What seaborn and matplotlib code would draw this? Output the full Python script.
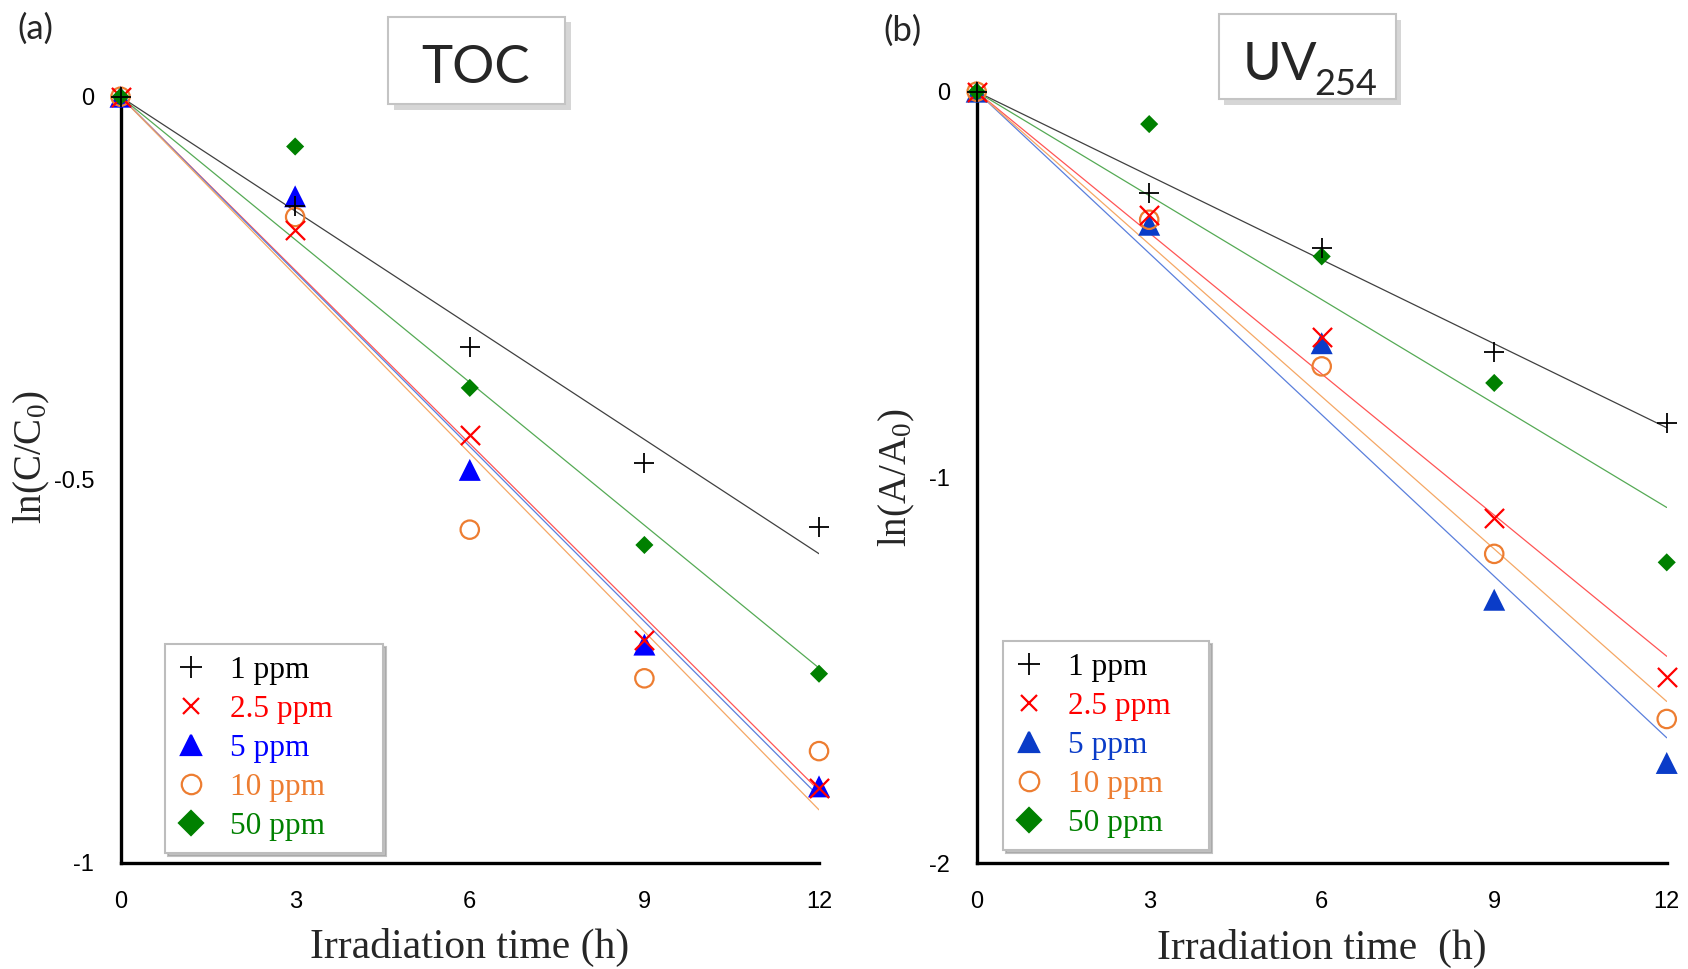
"""
TOC / UV254 광분해 1차 반응 플롯 (ln(C/C0) vs 조사 시간)
"""

import numpy as np
import matplotlib
matplotlib.use('Agg')
import matplotlib.pyplot as plt
import matplotlib.patheffects as pe
from matplotlib.patches import Rectangle
from matplotlib.lines import Line2D
import seaborn as sns

# 데이터
hours = [0, 3, 6, 9, 12]
series = ['1 ppm', '2.5 ppm', '5 ppm', '10 ppm', '50 ppm']

toc_1 = [0, -0.143, -0.326, -0.478, -0.561]
toc_25 = [0, -0.174, -0.441, -0.709, -0.902]
toc_5 = [0, -0.130, -0.487, -0.715, -0.900]
toc_10 = [0, -0.157, -0.565, -0.759, -0.854]
toc_50 = [0, -0.065, -0.380, -0.585, -0.753]

uv_1 = [0, -0.263, -0.406, -0.674, -0.859]
uv_25 = [0, -0.319, -0.635, -1.105, -1.518]
uv_5 = [0, -0.345, -0.652, -1.317, -1.740]
uv_10 = [0, -0.332, -0.712, -1.198, -1.626]
uv_50 = [0, -0.084, -0.427, -0.755, -1.220]

toc_ticks = [0, -0.1, -0.2, -0.3, -0.4, -0.5, -0.6, -0.7, -0.8, -0.9, -1]
toc_ticklabels = ['0', '', '', '', '', '-0.5', '', '', '', '', '-1']
uv_ticks = [0, -0.5, -1, -1.5, -2]
uv_ticklabels = ['0', '', '-1', '', '-2']

# 스타일
sns.set_style('white')
plt.rcParams['font.family'] = ['Liberation Sans', 'DejaVu Sans']
plt.rcParams['axes.unicode_minus'] = False
plt.rcParams['mathtext.fontset'] = 'custom'
plt.rcParams['mathtext.rm'] = 'Liberation Serif'
plt.rcParams['mathtext.it'] = 'Liberation Serif:italic'

marker_style = {
    '1 ppm': dict(marker='+', s=200, color='black', linewidth=1.3),
    '2.5 ppm': dict(marker='x', s=190, color='#ff0000', linewidth=1.6),
    '5 ppm': dict(marker='^', s=250, color='#0000ff', edgecolor='none'),
    '10 ppm': dict(marker='o', s=175, color='#ed7d31', facecolor='none',
                   edgecolor='#ed7d31', linewidth=1.6),
    '50 ppm': dict(marker='D', s=85, color='#008000', edgecolor='none'),
}
line_color = {'1 ppm': '#404040', '2.5 ppm': '#ff5555', '5 ppm': '#5a7fdc',
              '10 ppm': '#f5a765', '50 ppm': '#55aa55'}
label_color = {'1 ppm': 'black', '2.5 ppm': '#ff0000', '5 ppm': '#0000ff',
               '10 ppm': '#ed7d31', '50 ppm': '#008000'}
draw_order = ['5 ppm', '10 ppm', '2.5 ppm', '50 ppm', '1 ppm']
serif = ['Liberation Serif', 'DejaVu Serif']

fig = plt.figure(figsize=(16.88, 9.69), dpi=100)
ax1 = fig.add_axes([0.0714, 0.1094, 0.4138, 0.7908])
ax2 = fig.add_axes([0.5786, 0.1091, 0.4088, 0.7963])


def draw_panel(ax, values, tri_color, yticks, yticklabels, ylabel, xlabel,
               ylab_pos, legend_pos):
    t = np.array(hours, dtype=float)
    # 원점 통과 1차 회귀선
    for name in series:
        y = np.array(values[name])
        k = (t * y).sum() / (t * t).sum()
        fx = np.array([t[0], t[-1]])
        sns.lineplot(x=fx, y=k * fx, color=line_color[name], linewidth=0.9,
                     ax=ax, zorder=2)
    for name in draw_order:
        kw = dict(marker_style[name])
        if name == '5 ppm':
            kw['color'] = tri_color
        sns.scatterplot(x=hours, y=values[name], ax=ax, zorder=4,
                        clip_on=False, legend=False, **kw)

    ax.set_xlim(0, 12)
    ax.set_ylim(yticks[-1], 0)
    ax.set_xticks([0, 3, 6, 9, 12])
    ax.set_yticks(yticks)
    ax.set_yticklabels(yticklabels)
    sns.despine(ax=ax)
    for sp in ['left', 'bottom']:
        ax.spines[sp].set_linewidth(2.4)
        ax.spines[sp].set_color('black')
    ax.tick_params(axis='both', direction='in', length=6, width=2.2,
                   labelsize=17, colors='black')
    ax.tick_params(axis='x', pad=20)
    ax.tick_params(axis='y', pad=19)

    ax.set_xlabel(xlabel, fontsize=30, family=serif)
    ax.xaxis.set_label_coords(0.5, -0.085)
    ax.set_ylabel(ylabel, fontsize=28, family=serif)
    ax.yaxis.set_label_coords(*ylab_pos)

    handles = []
    for name in series:
        st = marker_style[name]
        c = tri_color if name == '5 ppm' else st['color']
        fc = 'none' if name == '10 ppm' else c
        ms = {'1 ppm': 16, '2.5 ppm': 11, '5 ppm': 15, '10 ppm': 14,
              '50 ppm': 12}[name]
        handles.append(Line2D([], [], ls='none', marker=st['marker'],
                              color=c, markerfacecolor=fc,
                              markeredgecolor=c, markersize=ms,
                              markeredgewidth=1.6 if name != '1 ppm' else 1.3))
    leg = ax.legend(handles, series, loc='lower left',
                    bbox_to_anchor=legend_pos, bbox_transform=fig.transFigure,
                    mode='expand', borderaxespad=0, borderpad=0.38,
                    handlelength=0.9, handletextpad=0.8, labelspacing=0.32,
                    fancybox=False, framealpha=1, edgecolor='#bdbdbd',
                    prop={'family': serif, 'size': 22.5},
                    shadow={'color': '#9a9a9a', 'alpha': 0.6})
    leg.get_frame().set_linewidth(1.5)
    leg.set_zorder(6)
    for txt, name in zip(leg.get_texts(), series):
        txt.set_color(tri_color if name == '5 ppm' else label_color[name])


toc_values = dict(zip(series, [toc_1, toc_25, toc_5, toc_10, toc_50]))
uv_values = dict(zip(series, [uv_1, uv_25, uv_5, uv_10, uv_50]))

draw_panel(ax1, toc_values, '#0000ff', toc_ticks, toc_ticklabels,
           r'ln(C/C$_0$)', 'Irradiation time (h)', (-0.098, 0.53),
           (0.0977, 0.1197, 0.1292, 0.2))
draw_panel(ax2, uv_values, '#0a3cc8', uv_ticks, uv_ticklabels,
           r'ln(A/A$_0$)', 'Irradiation time  (h)', (-0.0865, 0.50),
           (0.5942, 0.1228, 0.1220, 0.2))

# 제목 상자 (그림자 포함)
shadow = [pe.withSimplePatchShadow(offset=(4, -4), shadow_rgbFace='#999999',
                                   alpha=0.4)]
for x0, y0, w, h in [(0.2299, 0.8927, 0.1049, 0.0901),
                     (0.7220, 0.8978, 0.1049, 0.0874)]:
    fig.add_artist(Rectangle((x0, y0), w, h, transform=fig.transFigure,
                             facecolor='white', edgecolor='#c4c4c4',
                             linewidth=1.5, path_effects=shadow, zorder=5))

fig.text(0.2817, 0.914, 'TOC', ha='center', va='baseline', fontsize=38,
         family=['Lato', 'DejaVu Sans'], zorder=6)
fig.text(0.7364, 0.9174, 'UV', ha='left', va='baseline', fontsize=38,
         family=['Lato', 'DejaVu Sans'], zorder=6)
fig.text(0.7784, 0.902, '254', ha='left', va='baseline', fontsize=26,
         family=['Lato', 'DejaVu Sans'], zorder=6)

fig.text(0.0101, 0.9866, '(a)', ha='left', va='top', fontsize=25,
         family=['Lato', 'DejaVu Sans'])
fig.text(0.5231, 0.9845, '(b)', ha='left', va='top', fontsize=25,
         family=['Lato', 'DejaVu Sans'])

fig.savefig('out.png', dpi=100)
plt.close(fig)
